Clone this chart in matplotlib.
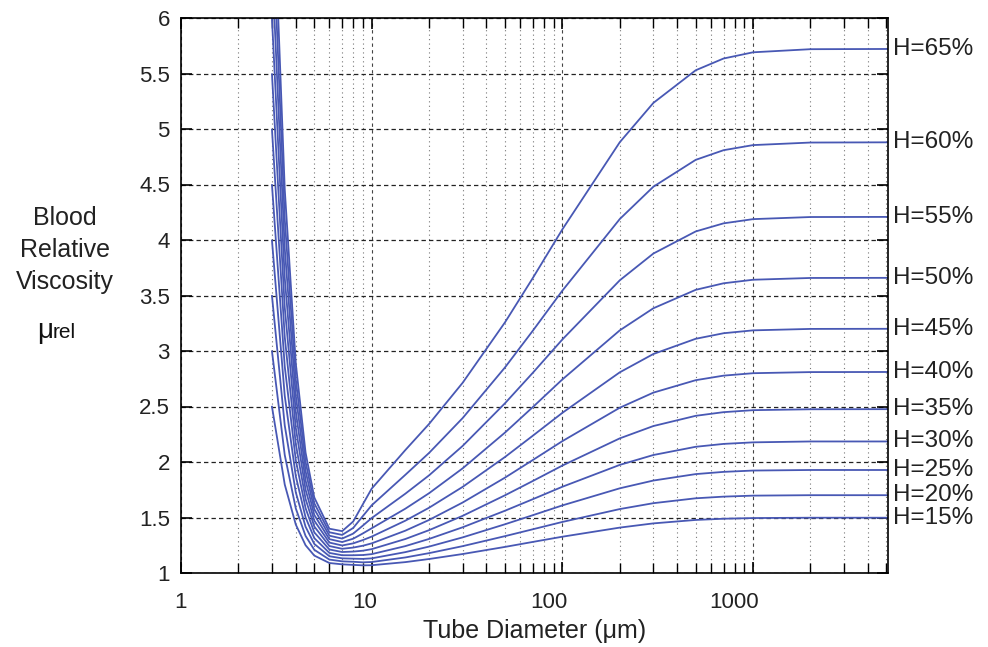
import numpy as np
import matplotlib
matplotlib.use('Agg')
import matplotlib.pyplot as plt
from matplotlib.ticker import LogLocator, NullFormatter
import matplotlib.transforms as mtransforms

plt.rcParams['font.family'] = ['Liberation Sans', 'DejaVu Sans']

# tube diameter (um), sample points
diam = [3, 3.5, 4, 4.5, 5, 6, 7, 8, 9, 10, 15, 20, 30, 50, 70, 100,
        200, 300, 500, 700, 1000, 2000, 5100]

hct = ['H=15%', 'H=20%', 'H=25%', 'H=30%', 'H=35%', 'H=40%',
       'H=45%', 'H=50%', 'H=55%', 'H=60%', 'H=65%']

mu_15 = [2.498, 1.797, 1.436, 1.250, 1.157, 1.090, 1.078, 1.073, 1.069, 1.070, 1.098, 1.126,
         1.171, 1.235, 1.280, 1.327, 1.409, 1.447, 1.478, 1.489, 1.495, 1.498, 1.498]
mu_20 = [2.997, 2.063, 1.581, 1.334, 1.209, 1.121, 1.105, 1.101, 1.096, 1.099, 1.140, 1.179,
         1.242, 1.332, 1.394, 1.460, 1.576, 1.629, 1.673, 1.688, 1.697, 1.701, 1.701]
mu_25 = [3.496, 2.329, 1.726, 1.417, 1.262, 1.151, 1.132, 1.129, 1.127, 1.132, 1.188, 1.238,
         1.321, 1.439, 1.521, 1.609, 1.763, 1.833, 1.891, 1.911, 1.923, 1.928, 1.928]
mu_30 = [3.995, 2.595, 1.871, 1.501, 1.314, 1.181, 1.160, 1.160, 1.162, 1.170, 1.242, 1.307,
         1.412, 1.561, 1.665, 1.777, 1.974, 2.063, 2.137, 2.163, 2.177, 2.185, 2.185]
mu_35 = [4.495, 2.860, 2.016, 1.584, 1.366, 1.212, 1.189, 1.193, 1.201, 1.215, 1.306, 1.386,
         1.515, 1.700, 1.829, 1.968, 2.213, 2.324, 2.416, 2.449, 2.467, 2.475, 2.476]
mu_40 = [4.994, 3.126, 2.161, 1.667, 1.419, 1.243, 1.218, 1.229, 1.246, 1.267, 1.381, 1.478,
         1.635, 1.859, 2.018, 2.188, 2.489, 2.625, 2.737, 2.778, 2.800, 2.810, 2.811]
mu_45 = [5.493, 3.392, 2.307, 1.751, 1.471, 1.274, 1.248, 1.267, 1.297, 1.328, 1.471, 1.588,
         1.776, 2.045, 2.237, 2.443, 2.808, 2.973, 3.110, 3.160, 3.186, 3.199, 3.200]
mu_50 = [5.992, 3.658, 2.452, 1.834, 1.523, 1.305, 1.279, 1.309, 1.357, 1.403, 1.579, 1.719,
         1.943, 2.265, 2.495, 2.744, 3.186, 3.385, 3.551, 3.610, 3.642, 3.658, 3.659]
mu_55 = [6.491, 3.924, 2.597, 1.918, 1.576, 1.336, 1.310, 1.355, 1.428, 1.495, 1.714, 1.880,
         2.145, 2.529, 2.804, 3.104, 3.637, 3.878, 4.077, 4.150, 4.188, 4.207, 4.208]
mu_60 = [6.991, 4.189, 2.742, 2.001, 1.628, 1.367, 1.343, 1.406, 1.514, 1.610, 1.884, 2.082,
         2.396, 2.852, 3.183, 3.544, 4.189, 4.480, 4.722, 4.809, 4.855, 4.878, 4.880]
mu_65 = [7.490, 4.455, 2.887, 2.085, 1.680, 1.399, 1.377, 1.464, 1.621, 1.760, 2.107, 2.343,
         2.714, 3.258, 3.658, 4.096, 4.881, 5.235, 5.529, 5.635, 5.691, 5.719, 5.721]

curves = [mu_15, mu_20, mu_25, mu_30, mu_35, mu_40, mu_45, mu_50, mu_55, mu_60, mu_65]

yticks = [1, 1.5, 2, 2.5, 3, 3.5, 4, 4.5, 5, 5.5, 6]
xticks = [1, 10, 100, 1000]

line_color = '#4858b4'
text_color = '#222222'

fig = plt.figure(figsize=(9.88, 6.47), dpi=100)
ax = fig.add_axes([181 / 988, 1 - 573 / 647, (888 - 181) / 988, (573 - 18) / 647])

for name, vals in zip(hct, curves):
    ax.plot(diam, vals, color=line_color, lw=1.3)
    # label at the right end of the curve
    ax.text(1.007, vals[-1], name, transform=ax.get_yaxis_transform(),
            ha='left', va='center', fontsize=17.5, color=text_color, clip_on=False)

ax.set_xscale('log')
ax.set_xlim(1, 5100)
ax.set_ylim(1, 6)
ax.set_yticks(yticks)
ax.set_yticklabels([f'{v:g}' for v in yticks])
ax.set_xticks(xticks)
ax.set_xticklabels([str(v) for v in xticks])
ax.xaxis.set_minor_locator(LogLocator(base=10, subs=np.arange(2, 10)))
ax.xaxis.set_minor_formatter(NullFormatter())

ax.grid(which='major', axis='y', ls=(0, (3.5, 2.5)), color='#222222', lw=0.9)
ax.grid(which='major', axis='x', ls=(0, (3, 3)), color='#444444', lw=0.8)
ax.grid(which='minor', axis='x', ls=(0, (1, 3)), color='#777777', lw=0.8)

ax.tick_params(which='both', direction='in', top=True, right=True,
               labelsize=16, labelcolor=text_color)
ax.tick_params(which='major', length=8, width=1.2)
ax.tick_params(which='minor', length=7, width=1.0)
ax.tick_params(axis='x', pad=14)
ax.tick_params(axis='y', pad=8)
for sp in ax.spines.values():
    sp.set_linewidth(1.2)

# x tick labels sit right-aligned just past their tick, like the original
offset = mtransforms.ScaledTranslation(4 / 72, 0, fig.dpi_scale_trans)
for lbl in ax.get_xticklabels():
    lbl.set_ha('right')
    lbl.set_transform(lbl.get_transform() + offset)

ax.set_xlabel('Tube Diameter (μm)', fontsize=18, color=text_color, labelpad=4)

fig.text(65 / 988, 1 - 250 / 647, 'Blood\nRelative\nViscosity', ha='center', va='center',
         fontsize=18, linespacing=1.4, color=text_color)
fig.text(37 / 988, 1 - 338 / 647, 'μ', fontsize=20, va='baseline', color='#111111')
fig.text(53 / 988, 1 - 338 / 647, 'rel', fontsize=15, va='baseline', color='#111111')

fig.savefig('out.png', dpi=100)
